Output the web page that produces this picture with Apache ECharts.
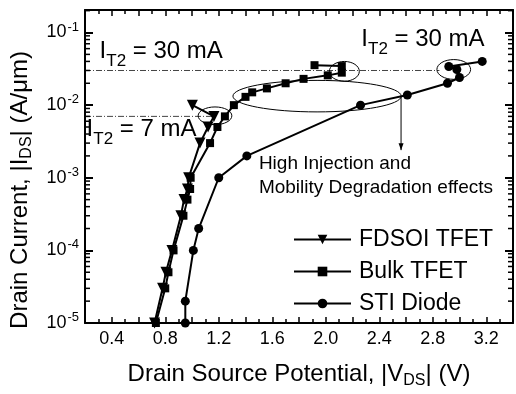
<!DOCTYPE html>
<html><head><meta charset="utf-8">
<script src="https://cdn.jsdelivr.net/npm/echarts@6/dist/echarts.min.js"></script>
<style>html,body{margin:0;padding:0;background:#fff}#c{width:516px;height:394px}</style>
</head><body><div id="c"></div>
<script>
// ---- data ----
const fdsoiV = [0.72, 0.78, 0.805, 0.85, 0.917, 0.94, 0.966, 0.975, 1.06, 1.12, 1.164, 1.003];
const fdsoiI = [1e-5, 3e-5, 5e-5, 1e-4, 3e-4, 5e-4, 7e-4, 1e-3, 3e-3, 5e-3, 7e-3, 1e-2];
const bulkV = [0.73, 0.80, 0.824, 0.862, 0.936, 0.966, 0.986, 0.99, 1.135, 1.19, 1.246, 1.313, 1.40, 1.45, 1.56, 1.70, 1.834, 2.015, 2.12, 2.12, 1.916];
const bulkI = [1e-5, 3e-5, 5e-5, 1e-4, 3e-4, 5e-4, 7e-4, 1e-3, 3e-3, 5e-3, 7e-3, 1e-2, 1.3e-2, 1.5e-2, 1.7e-2, 2e-2, 2.3e-2, 2.57e-2, 2.8e-2, 3.45e-2, 3.55e-2];
const stiV = [0.95, 0.95, 1.01, 1.05, 1.2, 1.41, 2.26, 2.61, 2.91, 3.0, 2.98, 2.92, 3.17];
const stiI = [1e-5, 2e-5, 1e-4, 2e-4, 1e-3, 2e-3, 1e-2, 1.38e-2, 2e-2, 2.4e-2, 3.1e-2, 3.4e-2, 4e-2];
const seriesNames = ['FDSOI TFET', 'Bulk TFET', 'STI Diode'];
const xTickLabels = ['0.4', '0.8', '1.2', '1.6', '2.0', '2.4', '2.8', '3.2'];
const yDecades = [-5, -4, -3, -2, -1];
const yMinorMantissa = [2, 3, 4, 5, 6, 7, 8, 9];
const X_MIN = 0.2, X_MAX = 3.4, Y_MIN_LOG = -5, Y_MAX_LOG = -0.69;
// reference lines (I_T2 levels)
const it2HighV = [0.2, 2.85], it2HighI = [0.03, 0.03];
const it2LowV = [0.2, 1.16], it2LowI = [0.007, 0.007];
// annotation ellipses: center V, center I, half-width (V), half-height (decades)
const ellV = [1.172, 2.139, 1.935, 2.957];
const ellI = [7.13e-3, 2.92e-2, 1.33e-2, 3.1e-2];
const ellRx = [0.126, 0.112, 0.629, 0.126];
const ellRy = [0.122, 0.136, 0.217, 0.136];
const arrowV = [2.563, 2.563], arrowI = [1.33e-2, 2.4e-3];
const itTexts = ['= 30 mA', '= 30 mA', '= 7 mA'];
const itV = [0.309, 2.266, 0.212];
const itI = [0.0545, 0.0794, 0.0046];
const noteLines = ['High Injection and', 'Mobility Degradation effects'];
const noteV = 1.50, noteI = 2.3e-3;

const FONT = '"Liberation Sans", Arial, Helvetica, sans-serif';
const toPts = (V, I) => V.map((v, i) => [v, Math.log10(I[i])]);
const minorLogs = [];
yDecades.forEach(d => yMinorMantissa.forEach(m => { const v = d + Math.log10(m); if (v < Y_MAX_LOG) minorLogs.push(v); }));

const chart = echarts.init(document.getElementById('c'), null, {renderer: 'canvas'});
const axisLineStyle = {color: '#000', width: 2};
const lineSer = (name, data, symbol, size, rot) => ({
  name, type: 'line', data, symbol, symbolSize: size, symbolRotate: rot || 0,
  lineStyle: {color: '#000', width: 2}, itemStyle: {color: '#000'},
  showSymbol: true, animation: false, z: 3
});
const refLine = (V, I) => ({
  type: 'line', data: toPts(V, I), symbol: 'none', silent: true, animation: false,
  lineStyle: {color: '#444', width: 1, type: [6, 2, 1, 2]}, z: 2
});

chart.setOption({
  animation: false,
  grid: {left: 85, right: 3, top: 10, bottom: 67},
  xAxis: [{
    type: 'value', min: X_MIN, max: X_MAX, interval: 0.2, position: 'bottom',
    axisLine: {onZero: false, lineStyle: axisLineStyle},
    axisTick: {inside: true, length: 6, lineStyle: {color: '#000', width: 1.5}},
    minorTick: {show: true, splitNumber: 2, length: 4, lineStyle: {color: '#000', width: 1.5}},
    splitLine: {show: false},
    axisLabel: {color: '#000', fontSize: 18, fontFamily: FONT, margin: 7,
      formatter: v => { const s = v.toFixed(1); return xTickLabels.indexOf(s) >= 0 ? s : ''; }},
    name: 'Drain Source Potential, |V{s|DS}| (V)', nameLocation: 'middle', nameGap: 36,
    nameTextStyle: {color: '#000', fontSize: 24, fontFamily: FONT,
      rich: {s: {fontSize: 16, fontFamily: FONT, color: '#000', padding: [14, 0, 0, 0]}}}
  }, {
    type: 'value', min: X_MIN, max: X_MAX, interval: 0.2, position: 'top',
    axisLine: {onZero: false, lineStyle: axisLineStyle},
    axisTick: {inside: true, length: 6, lineStyle: {color: '#000', width: 1.5}},
    minorTick: {show: true, splitNumber: 2, length: 4, lineStyle: {color: '#000', width: 1.5}},
    splitLine: {show: false}, axisLabel: {show: false}
  }],
  yAxis: [{
    type: 'value', min: Y_MIN_LOG, max: Y_MAX_LOG, interval: 1, position: 'left',
    axisLine: {onZero: false, lineStyle: axisLineStyle},
    axisTick: {inside: true, length: 8, lineStyle: {color: '#000', width: 2}},
    splitLine: {show: false},
    axisLabel: {color: '#000', fontSize: 18, fontFamily: FONT, margin: 6, showMaxLabel: false,
      formatter: v => (yDecades.indexOf(Math.round(v)) >= 0 && Math.abs(v - Math.round(v)) < 1e-6) ? '{b|10}{p|' + Math.round(v) + '}' : '',
      rich: {b: {fontSize: 18, fontFamily: FONT, color: '#000'},
             p: {fontSize: 13, fontFamily: FONT, color: '#000', padding: [0, 0, 11, 1]}}}
  }, {
    type: 'value', min: Y_MIN_LOG, max: Y_MAX_LOG, interval: 1, position: 'right',
    axisLine: {onZero: false, lineStyle: axisLineStyle},
    axisTick: {inside: true, length: 8, lineStyle: {color: '#000', width: 2}},
    splitLine: {show: false}, axisLabel: {show: false}
  }],
  legend: {
    orient: 'vertical', left: 288, top: 223, itemWidth: 57, itemHeight: 12, itemGap: 9,
    data: seriesNames, selectedMode: false,
    textStyle: {color: '#000', fontSize: 23, fontFamily: FONT, padding: [0, 0, 0, 3]}
  },
  series: [
    refLine(it2HighV, it2HighI),
    refLine(it2LowV, it2LowI),
    lineSer(seriesNames[0], toPts(fdsoiV, fdsoiI), 'triangle', 11, 180),
    lineSer(seriesNames[1], toPts(bulkV, bulkI), 'rect', 8),
    lineSer(seriesNames[2], toPts(stiV, stiI), 'circle', 9)
  ]
});

// ---- annotations converted from data coordinates ----
const px = (v, i) => chart.convertToPixel({gridIndex: 0}, [v, Math.log10(i)]);
const g = [];
// log-scale minor ticks on the left and right axes
minorLogs.forEach(lv => {
  const l = chart.convertToPixel({gridIndex: 0}, [X_MIN, lv]);
  const r = chart.convertToPixel({gridIndex: 0}, [X_MAX, lv]);
  g.push({type: 'line', shape: {x1: l[0], y1: l[1], x2: l[0] + 5, y2: l[1]}, style: {stroke: '#000', lineWidth: 1.5}, z: 50});
  g.push({type: 'line', shape: {x1: r[0], y1: r[1], x2: r[0] - 5, y2: r[1]}, style: {stroke: '#000', lineWidth: 1.5}, z: 50});
});
ellV.forEach((v, k) => {
  const c = px(v, ellI[k]);
  const e = chart.convertToPixel({gridIndex: 0}, [v + ellRx[k], Math.log10(ellI[k]) + ellRy[k]]);
  g.push({type: 'ellipse', shape: {cx: c[0], cy: c[1], rx: Math.abs(e[0] - c[0]), ry: Math.abs(c[1] - e[1])},
    style: {fill: 'none', stroke: '#000', lineWidth: 1}, z: 10});
});
const a0 = px(arrowV[0], arrowI[0]), a1 = px(arrowV[1], arrowI[1]);
g.push({type: 'line', shape: {x1: a0[0], y1: a0[1], x2: a1[0], y2: a1[1]}, style: {stroke: '#000', lineWidth: 1}, z: 10});
g.push({type: 'polygon', shape: {points: [[a1[0] - 2.5, a1[1] - 7], [a1[0] + 2.5, a1[1] - 7], [a1[0], a1[1]]]}, style: {fill: '#000'}, z: 10});
itTexts.forEach((t, k) => {
  const p = px(itV[k], itI[k]);
  g.push({type: 'text', x: p[0], y: p[1], z: 10, style: {
    text: '{m|I}{s|T2}{m| ' + t + '}', align: 'left', verticalAlign: 'middle', fill: '#000',
    rich: {m: {fontSize: 24, fontFamily: FONT, fill: '#000'},
           s: {fontSize: 17, fontFamily: FONT, fill: '#000', padding: [20, 0, 0, 0]}}}});
});
const np = px(noteV, noteI);
g.push({type: 'text', x: np[0], y: np[1], z: 10, style: {
  text: noteLines.join('\n'), fontSize: 19, fontFamily: FONT, fill: '#000', lineHeight: 24,
  align: 'left', verticalAlign: 'top'}});
g.push({type: 'text', x: 20, y: 190, rotation: Math.PI / 2, z: 10, style: {
  text: 'Drain Current, |I{s|DS}| (A/μm)', fontSize: 24, fontFamily: FONT, fill: '#000',
  align: 'center', verticalAlign: 'middle',
  rich: {s: {fontSize: 16, fontFamily: FONT, fill: '#000', padding: [14, 0, 0, 0]}}}});
chart.setOption({graphic: {elements: g}});
</script></body></html>
